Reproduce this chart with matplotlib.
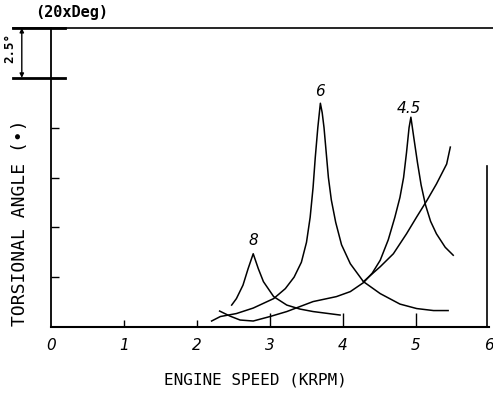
import matplotlib
matplotlib.use("Agg")
import matplotlib.pyplot as plt

# ---- data (engine speed in krpm, torsional angle in 2.5-deg divisions) ----
order8_x = [2.475, 2.54, 2.63, 2.70, 2.77, 2.84, 2.91, 3.05, 3.23, 3.41, 3.59, 3.96]
order8_y = [0.44, 0.57, 0.84, 1.17, 1.47, 1.17, 0.91, 0.61, 0.44, 0.36, 0.31, 0.24]

order6_x = [2.20, 2.32, 2.54, 2.77, 3.05, 3.21, 3.33, 3.43, 3.50, 3.55, 3.59,
            3.62, 3.655, 3.69,
            3.715, 3.74, 3.77, 3.80, 3.84, 3.90, 3.98, 4.10, 4.28, 4.51, 4.78,
            5.01, 5.24, 5.44]
order6_y = [0.12, 0.21, 0.27, 0.38, 0.57, 0.77, 1.00, 1.30, 1.70, 2.20, 2.80,
            3.40, 4.00, 4.49,
            4.30, 4.00, 3.50, 3.00, 2.55, 2.10, 1.65, 1.27, 0.91, 0.67, 0.46,
            0.37, 0.33, 0.33]

order45_x = [2.31, 2.45, 2.59, 2.77, 3.00, 3.23, 3.41, 3.59, 3.91, 4.10, 4.28,
             4.40, 4.51, 4.62, 4.71, 4.78, 4.83, 4.87, 4.905, 4.93,
             4.97, 5.02, 5.07, 5.13, 5.20, 5.28, 5.40, 5.51]
order45_y = [0.32, 0.22, 0.14, 0.12, 0.21, 0.31, 0.41, 0.51, 0.61, 0.71, 0.89,
             1.08, 1.34, 1.75, 2.20, 2.60, 3.00, 3.50, 4.00, 4.21,
             3.80, 3.30, 2.85, 2.45, 2.12, 1.87, 1.60, 1.44]

rising_x = [4.28, 4.51, 4.69, 4.87, 5.01, 5.15, 5.28, 5.42, 5.47]
rising_y = [0.91, 1.21, 1.47, 1.87, 2.21, 2.54, 2.87, 3.27, 3.61]

curve_labels = ["8", "6", "4.5"]
label_pos_x = [2.77, 3.69, 4.90]
label_pos_y = [1.74, 4.73, 4.39]

xtick_vals = [0, 1, 2, 3, 4, 5, 6]
xtick_text = ["0", "1", "2", "3", "4", "5", "6"]
xtick_len = [0, 5, 5, 10, 10, 10, 0]
ytick_vals = [1, 2, 3, 4, 5]

W, H = 493, 396
fig = plt.figure(figsize=(W / 100, H / 100), dpi=100)
ax = fig.add_axes([51 / W, 1 - 327 / H, 438 / W, 299 / H])
ax.set_xlim(0, 6)
ax.set_ylim(0, 6)

lw = 1.1
for xs, ys in [(order8_x, order8_y), (order6_x, order6_y),
               (order45_x, order45_y), (rising_x, rising_y)]:
    ax.plot(xs, ys, color="black", lw=lw, solid_joinstyle="round")

for t, x, y in zip(curve_labels, label_pos_x, label_pos_y):
    ax.text(x, y, t, ha="center", va="center", fontsize=11, style="italic")

# spines
ax.spines["top"].set_visible(False)
ax.spines["right"].set_visible(False)
ax.spines["left"].set_linewidth(1.3)
ax.spines["bottom"].set_linewidth(1.5)

# partial right border and long top line
ax.plot([5.97, 5.97], [0, 3.24], color="black", lw=1.2, clip_on=False)
ax.plot([-0.52, 6.05], [6, 6], color="black", lw=1.2, clip_on=False)
ax.plot([-0.52, 0.19], [6, 6], color="black", lw=2.0, clip_on=False)
ax.plot([-0.52, 0.19], [5, 5], color="black", lw=2.0, clip_on=False)
# dimension arrow (2.5 deg)
ax.annotate("", xy=(-0.40, 6), xytext=(-0.40, 5),
            arrowprops=dict(arrowstyle="<|-|>", color="black", lw=1.0,
                            mutation_scale=6, shrinkA=0, shrinkB=0),
            annotation_clip=False)
ax.text(-0.57, 5.6, "2.5°", rotation=90, ha="center", va="center",
        fontsize=9, fontweight="bold", family="DejaVu Sans Mono")

# ticks
ax.set_xticks(xtick_vals)
ax.set_xticklabels(xtick_text, style="italic", fontsize=11)
ax.tick_params(axis="x", direction="in", length=10, width=1.0, pad=8)
for tk, ln in zip(ax.xaxis.get_major_ticks(), xtick_len):
    if ln == 0:
        tk.tick1line.set_visible(False)
    else:
        tk.tick1line.set_markersize(ln)
ax.set_yticks(ytick_vals)
ax.set_yticklabels([])
ax.tick_params(axis="y", direction="in", length=6, width=1.0)

# titles / labels
fig.text(72 / W, 1 - 12.5 / H, "(20xDeg)", ha="center", va="center",
         fontsize=11, fontweight="bold", family="DejaVu Sans Mono")
fig.text(255 / W, 1 - 380 / H, "ENGINE SPEED (KRPM)", ha="center", va="center",
         fontsize=11.5, family="DejaVu Sans Mono")
fig.text(20 / W, 1 - 223 / H, "TORSIONAL ANGLE (•)", ha="center", va="center",
         rotation=90, fontsize=13, family="DejaVu Sans Mono")

fig.savefig("out.png", dpi=100)
